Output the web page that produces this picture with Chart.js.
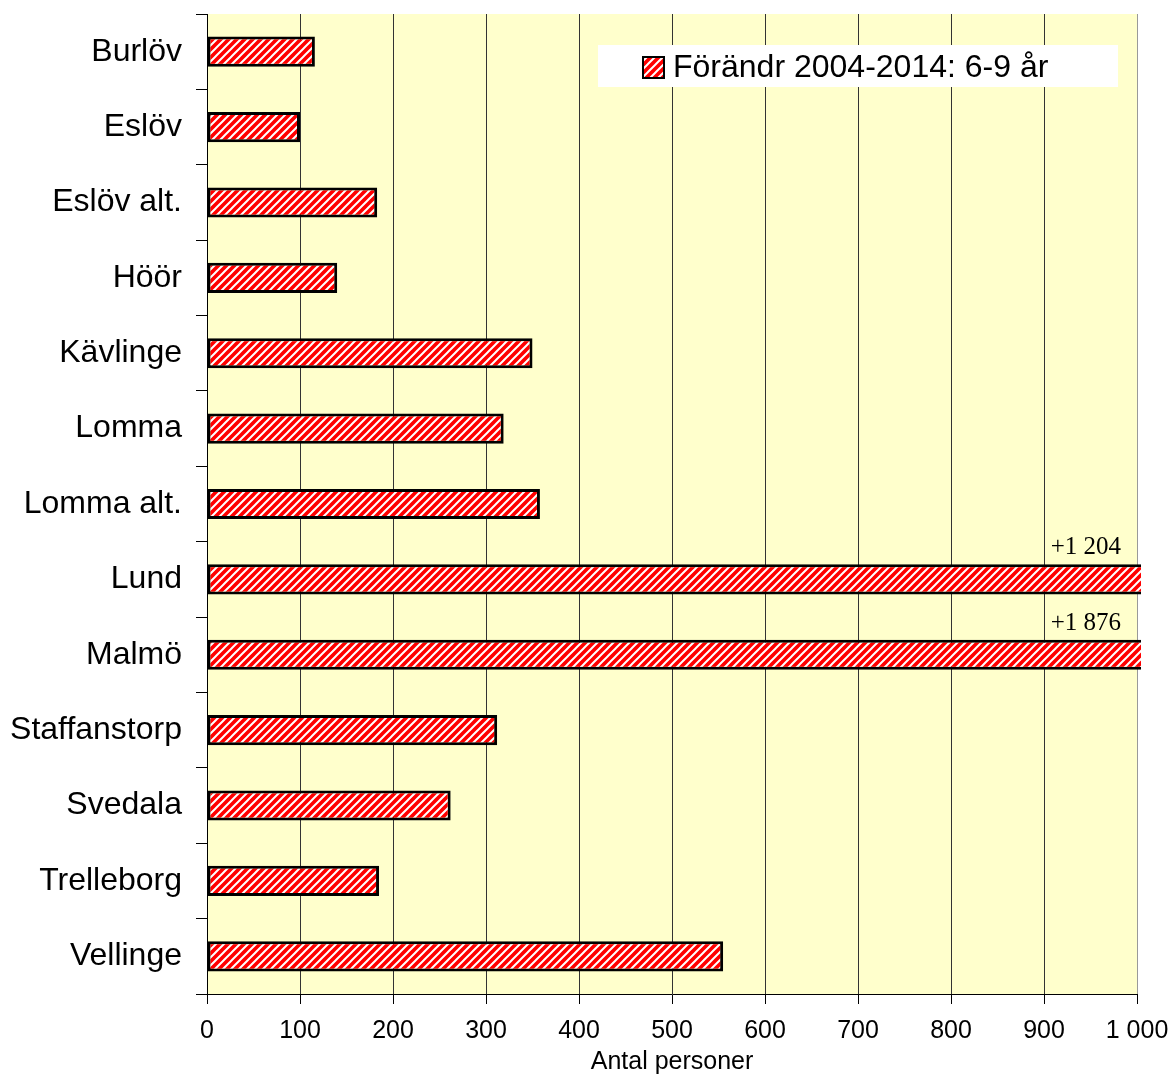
<!DOCTYPE html>
<html lang="sv">
<head>
<meta charset="utf-8">
<title>Förändr 2004-2014: 6-9 år</title>
<script src="https://cdn.jsdelivr.net/npm/chart.js@4.4.1/dist/chart.umd.min.js"></script>
<style>
  body { margin: 0; background: #fff; }
  #wrap { width: 1172px; height: 1077px; }
</style>
</head>
<body>
<div id="wrap"><canvas id="grafico" width="1172" height="1077"></canvas></div>
<script>
// datos
const kommuner = ["Burlöv", "Eslöv", "Eslöv alt.", "Höör", "Kävlinge", "Lomma", "Lomma alt.",
  "Lund", "Malmö", "Staffanstorp", "Svedala", "Trelleborg", "Vellinge"];
const forandring = [116, 100, 183, 140, 350, 319, 358, 1204, 1876, 312, 262, 185, 555];
const serieNamn = "Förändr 2004-2014: 6-9 år";
const axelTitel = "Antal personer";
const xTicks = [0, 100, 200, 300, 400, 500, 600, 700, 800, 900, 1000];

const fuente = "'Liberation Sans', Arial, sans-serif";
const canvas = document.getElementById("grafico");
const ctx = canvas.getContext("2d");

// 1 000 con espacio
function formato(n) {
  return String(n).replace(/\B(?=(\d{3})+(?!\d))/g, " ");
}

// relleno rojo con rayas blancas
function rayado() {
  const c = document.createElement("canvas");
  c.width = 8;
  c.height = 8;
  const g = c.getContext("2d");
  g.fillStyle = "#ff0000";
  g.fillRect(0, 0, 8, 8);
  g.strokeStyle = "#ffffff";
  g.lineWidth = 2;
  g.beginPath();
  g.moveTo(-2, 10); g.lineTo(10, -2);
  g.moveTo(-6, 6); g.lineTo(6, -6);
  g.moveTo(2, 14); g.lineTo(14, 2);
  g.stroke();
  return ctx.createPattern(c, "repeat");
}
const patron = rayado();

const fondo = {
  id: "fondo",
  beforeDraw(chart) {
    const a = chart.chartArea;
    const c = chart.ctx;
    c.save();
    c.fillStyle = "#ffffcc";
    c.fillRect(a.left, a.top, a.right - a.left, a.bottom - a.top);
    c.restore();
  }
};

// valores que no caben: se escriben sobre la barra
const etiquetas = {
  id: "etiquetas",
  afterDatasetsDraw(chart) {
    const c = chart.ctx;
    const max = chart.scales.x.max;
    const meta = chart.getDatasetMeta(0);
    c.save();
    c.font = "25px 'Liberation Serif', 'Times New Roman', serif";
    c.fillStyle = "#000";
    c.textAlign = "right";
    c.textBaseline = "alphabetic";
    meta.data.forEach((bar, i) => {
      const v = forandring[i];
      if (v > max) {
        c.fillText("+" + formato(v), chart.chartArea.right - 16, bar.y - bar.height / 2 - 10);
      }
    });
    c.restore();
  }
};

// leyenda dentro del area
const leyenda = {
  id: "leyenda",
  afterDraw(chart) {
    const c = chart.ctx;
    const a = chart.chartArea;
    const x0 = a.left + 391;
    const y0 = a.top + 31;
    c.save();
    c.fillStyle = "#fff";
    c.fillRect(x0, y0, 520, 42);
    c.fillStyle = patron;
    c.fillRect(x0 + 45, y0 + 12, 21, 21);
    c.strokeStyle = "#000";
    c.lineWidth = 2;
    c.strokeRect(x0 + 45, y0 + 12, 21, 21);
    c.fillStyle = "#000";
    c.font = "32px " + fuente;
    c.textBaseline = "alphabetic";
    c.fillText(serieNamn, x0 + 75, y0 + 32);
    c.restore();
  }
};

new Chart(canvas, {
  type: "bar",
  data: {
    labels: kommuner,
    datasets: [{
      label: serieNamn,
      data: forandring,
      backgroundColor: patron,
      borderColor: "#000",
      borderWidth: 3,
      borderSkipped: false,
      categoryPercentage: 1,
      barPercentage: 0.4,
      clip: { left: 0, top: 0, right: 4, bottom: 0 }
    }]
  },
  options: {
    indexAxis: "y",
    responsive: false,
    animation: false,
    layout: { padding: { left: 0, right: 35, top: 14, bottom: 0 } },
    plugins: {
      legend: { display: false },
      tooltip: { enabled: false }
    },
    scales: {
      x: {
        min: 0,
        max: 1000,
        afterBuildTicks: (s) => { s.ticks = xTicks.map((v) => ({ value: v })); },
        afterFit: (s) => {
          s.height = 83;
          s.paddingLeft = 0;
          s.paddingRight = 0;
        },
        grid: {
          color: (c) => (c.index === xTicks.length - 1 ? "#999" : "#333"),
          lineWidth: 1,
          tickColor: "#000",
          tickLength: 10
        },
        border: { color: "#000", width: 1 },
        ticks: {
          color: "#000",
          padding: 12,
          maxRotation: 0,
          font: { family: fuente, size: 25 },
          callback: (v) => formato(v)
        },
        title: {
          display: true,
          text: axelTitel,
          color: "#000",
          padding: { top: 0, bottom: 0 },
          font: { family: fuente, size: 25, lineHeight: 1.2 }
        }
      },
      y: {
        afterFit: (s) => {
          s.width = 207;
          s.paddingTop = 0;
          s.paddingBottom = 0;
        },
        grid: {
          offset: true,
          drawOnChartArea: false,
          color: "#000",
          tickLength: 11
        },
        border: { color: "#000", width: 1 },
        ticks: {
          color: "#000",
          padding: 14,
          font: { family: fuente, size: 32 }
        }
      }
    }
  },
  plugins: [fondo, etiquetas, leyenda]
});
</script>
</body>
</html>
